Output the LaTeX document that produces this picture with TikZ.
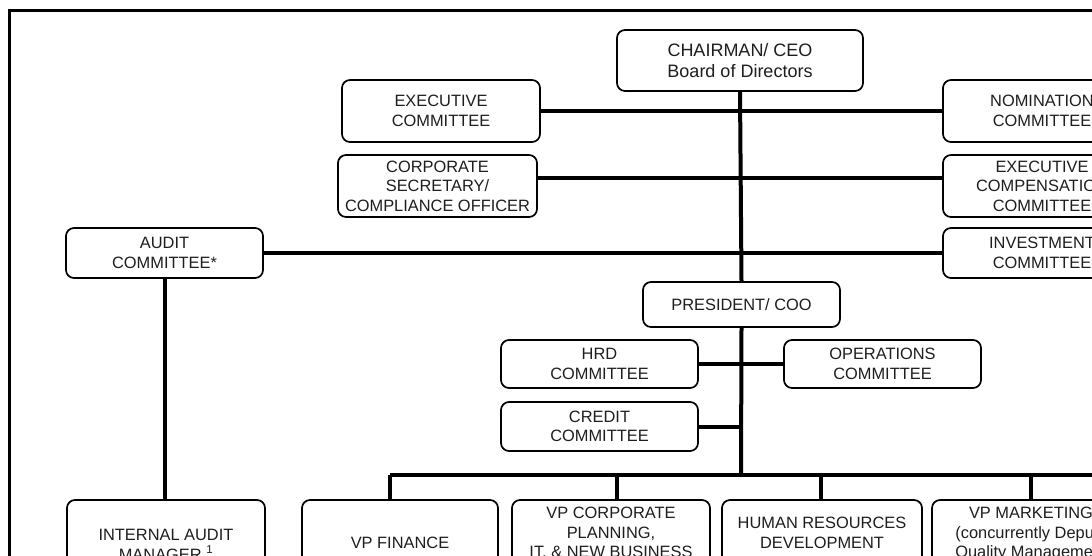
\documentclass[tikz,border=0pt]{standalone}
\usepackage{fontspec}
\setmainfont{Liberation Sans}
\usetikzlibrary{calc}
\definecolor{txtc}{HTML}{1E1E1E}
\begin{document}
\begin{tikzpicture}[x=1pt,y=-1pt,
  box/.style={draw=black, line width=1.7pt, rounded corners=8pt, fill=white,
    inner sep=0pt, align=center, text=txtc, font=\fontsize{16.4}{19.6}\selectfont},
  txt/.style={inner sep=0pt, align=center, text=txtc, font=\fontsize{16.4}{19.6}\selectfont},
  bigtxt/.style={font=\fontsize{18}{21}\selectfont},
  conn/.style={line width=4pt, draw=black},
  frame/.style={line width=3pt, draw=black, line join=miter}]
\useasboundingbox (0,0) rectangle (1092,555);
\clip (0,0) rectangle (1092,555);
\fill[white] (0,0) rectangle (1092,555);

% top level
\node[box, bigtxt, minimum width=246pt, minimum height=61pt] (ceo) at (740,60.5) {CHAIRMAN/ CEO\\Board of Directors};
\node[box, minimum width=198pt, minimum height=62pt] (exec) at (441,111) {EXECUTIVE\\COMMITTEE};
\node[box, minimum width=199pt, minimum height=62pt] (corpsec) at (437.5,186) {CORPORATE\\SECRETARY/\\COMPLIANCE OFFICER};
\node[box, minimum width=197pt, minimum height=50pt] (audit) at (164.5,253) {AUDIT\\COMMITTEE*};
\node[box, minimum width=198pt, minimum height=62pt] (nom) at (1042,111) {NOMINATION\\COMMITTEE};
\node[box, minimum width=198pt, minimum height=62pt] (execcomp) at (1042,186) {EXECUTIVE\\COMPENSATION\\COMMITTEE};
\node[box, minimum width=198pt, minimum height=50pt] (invest) at (1042,253) {INVESTMENT\\COMMITTEE};

% president level
\node[box, minimum width=197pt, minimum height=45pt] (pres) at (741.5,304.5) {PRESIDENT/ COO};
\node[box, minimum width=197pt, minimum height=48pt] (hrd) at (599.5,364) {HRD\\COMMITTEE};
\node[box, minimum width=197pt, minimum height=48pt] (ops) at (882.5,364) {OPERATIONS\\COMMITTEE};
\node[box, minimum width=197pt, minimum height=49pt] (credit) at (599.5,426.5) {CREDIT\\COMMITTEE};

% bottom row (runs off the page)
\node[box, minimum width=198pt, minimum height=120pt] (ia) at (166,560) {};
\node[box, minimum width=196pt, minimum height=120pt] (vpfin) at (400,560) {};
\node[box, minimum width=198pt, minimum height=120pt] (vpcorp) at (611,560) {};
\node[box, minimum width=200pt, minimum height=120pt] (hr) at (822,560) {};
\node[box, minimum width=198pt, minimum height=120pt] (vpmkt) at (1031,560) {};

\node[txt, anchor=north] (iaT) at (166,529) {INTERNAL AUDIT\\MANAGER \textsuperscript{1}};
\node[txt, anchor=north] (vpfinT) at (400,537) {VP FINANCE};
\node[txt, anchor=north] (vpcorpT) at (611,507) {VP CORPORATE\\PLANNING,\\IT, \& NEW BUSINESS};
\node[txt, anchor=north] (hrT) at (822,517) {HUMAN RESOURCES\\DEVELOPMENT};
\node[txt, anchor=north] (vpmktT) at (1031,507) {VP MARKETING\\(concurrently Deputy\\Quality Management};

% bus coordinates
\coordinate (b1) at (390,475);
\coordinate (b2) at (617,475);
\coordinate (b3) at (821,475);
\coordinate (b4) at (1031,475);
\coordinate (bR) at (1100,475);
\coordinate (tB) at (741,475);

% connectors
\draw[conn] (ceo.south) -- (pres.north);
\draw[conn] (pres.south) -- (tB);
\draw[conn] (exec.east) -- (nom.west);
\draw[conn] ([yshift=8pt]corpsec.east) -- ([yshift=8pt]execcomp.west);
\draw[conn] (audit.east) -- (invest.west);
\draw[conn] (audit.south) -- (audit.south |- ia.north);
\draw[conn] (hrd.east) -- (ops.west);
\draw[conn] (credit.east) -- (credit.east -| tB);
\draw[conn] (b1) -- (bR);
\draw[conn] (b1) -- (b1 |- vpfin.north);
\draw[conn] (b2) -- (b2 |- vpcorp.north);
\draw[conn] (b3) -- (b3 |- hr.north);
\draw[conn] (b4) -- (b4 |- vpmkt.north);

% outer frame
\draw[frame] (9,600) -- (9,10) -- (1110,10);
\end{tikzpicture}
\end{document}
